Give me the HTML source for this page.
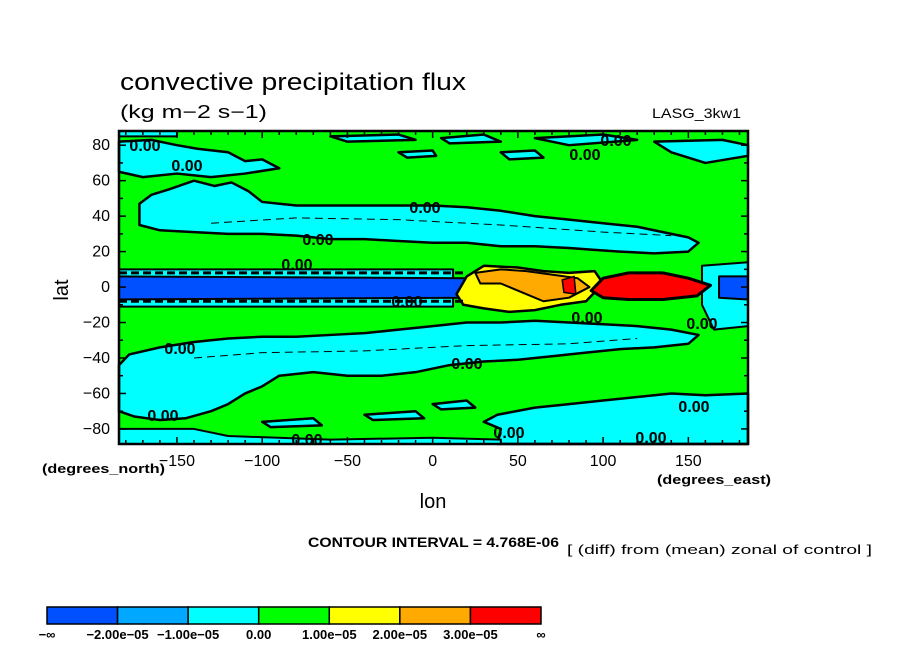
<!DOCTYPE html>
<html><head><meta charset="utf-8"><style>
body{margin:0;background:#fff;width:904px;height:654px;overflow:hidden}
svg text{font-family:"Liberation Sans",sans-serif}
</style></head><body>
<svg id="svg" width="904" height="654" xmlns="http://www.w3.org/2000/svg">
<text x="120" y="90" font-size="24" textLength="346" lengthAdjust="spacingAndGlyphs">convective precipitation flux</text>
<text x="120" y="118" font-size="18" textLength="147" lengthAdjust="spacingAndGlyphs">(kg m−2 s−1)</text>
<text x="652" y="118" font-size="14" textLength="89" lengthAdjust="spacingAndGlyphs">LASG_3kw1</text>
<g id="plot"></g>
<g id="axes"></g>
<text transform="translate(68,290) rotate(-90)" font-size="20" text-anchor="middle">lat</text>
<text x="42" y="473" font-size="13" font-weight="bold" textLength="123" lengthAdjust="spacingAndGlyphs">(degrees_north)</text>
<text x="433" y="508" font-size="20" text-anchor="middle">lon</text>
<text x="657" y="484" font-size="13" font-weight="bold" textLength="114" lengthAdjust="spacingAndGlyphs">(degrees_east)</text>
<text x="308" y="547" font-size="14" font-weight="bold" textLength="251" lengthAdjust="spacingAndGlyphs">CONTOUR INTERVAL = 4.768E-06</text>
<text x="567" y="554" font-size="13" textLength="305" lengthAdjust="spacingAndGlyphs">[ (diff) from (mean) zonal of control ]</text>
<g id="cbar"></g>
</svg>
<script>
const NS="http://www.w3.org/2000/svg";
const lonMin=-184, lonMax=185, latMin=-88.5, latMax=88;
const xTicks=[-150,-100,-50,0,50,100,150];
const yTicks=[-80,-60,-40,-20,0,20,40,60,80];
const cbarColors=["#0050ff","#00a8ff","#00ffff","#00ff00","#ffff00","#ffaa00","#ff0000"];
const cbarLabels=["−∞","−2.00e−05","−1.00e−05","0.00","1.00e−05","2.00e−05","3.00e−05","∞"];
// contour regions in [lon,lat]
const northBand=[[-172,47],[-165,52],[-155,55],[-140,60],[-128,57],[-118,59],[-108,54],[-100,48],[-80,46],[-50,46],[-20,46],[0,46],[20,45],[40,43],[60,40],[80,38],[100,36],[120,34],[140,30],[150,28],[156,25],[150,20],[130,19],[110,20],[95,21],[80,22],[60,23],[40,23],[20,25],[0,25],[-20,26],[-40,27],[-60,27],[-80,29],[-100,30],[-120,30],[-140,31],[-160,32],[-172,35]];
const northPolar=[[-184,82],[-165,83],[-150,80],[-138,78],[-120,76],[-110,71],[-100,72],[-90,67],[-110,64],[-130,62],[-150,64],[-170,62],[-184,65]];
const northStrip=[[-184,88],[-150,88],[-150,85],[-184,85]];
const northBlobs=[[[-60,85],[-20,86],[-10,83],[-50,82]],[[5,84],[30,86],[40,82],[10,81]],[[60,84],[100,86],[120,83],[80,80]],[[130,82],[170,83],[185,80],[185,74],[160,70],[140,76]],[[40,76],[60,77],[65,73],[45,72]],[[-20,76],[0,77],[2,74],[-15,73]]];
const southBand=[[-178,-38],[-160,-34],[-140,-31],[-120,-29],[-100,-28],[-80,-28],[-60,-27],[-40,-26],[-20,-24],[0,-22],[20,-20],[40,-20],[60,-19],[80,-20],[100,-21],[120,-22],[140,-24],[156,-27],[150,-32],[130,-34],[110,-35],[90,-37],[70,-39],[50,-41],[30,-42],[10,-44],[-10,-48],[-30,-50],[-50,-50],[-70,-48],[-90,-50],[-100,-56],[-110,-60],[-120,-66],[-130,-70],[-145,-74],[-160,-75],[-175,-73],[-184,-70],[-184,-44]];
const southPolar=[[38,-72],[60,-68],[80,-66],[100,-64],[120,-62],[140,-60],[160,-61],[185,-60],[185,-88.5],[38,-88.5],[40,-80],[30,-76]];
const southStrip=[[-184,-80],[-140,-80],[-120,-84],[-60,-86],[0,-85],[40,-86],[40,-88.5],[-184,-88.5]];
const southBlobs=[[[-40,-72],[-10,-70],[-5,-74],[-35,-75]],[[-100,-76],[-70,-74],[-65,-78],[-95,-79]],[[0,-66],[20,-64],[25,-68],[5,-69]]];
const eqCyanW=[[-184,10],[12,10],[12,-11],[-184,-11]];
const eqCyanE=[[158,12],[185,14],[185,-22],[165,-24],[158,-10]];
const eqBlueW=[[-184,6],[20,5],[20,-6],[-184,-7]];
const eqBlueE=[[168,6],[185,6],[185,-7],[168,-6]];
const yellowBlob=[[14,-4],[20,6],[30,12],[50,11],[65,9],[80,8],[95,9],[100,2],[90,-8],[75,-10],[60,-13],[45,-14],[30,-12],[18,-10]];
const orangeBlob=[[25,8],[40,10],[55,9],[70,7],[85,5],[92,0],[80,-6],[65,-8],[55,-4],[40,2],[28,2]];
const redBlob=[[93,-2],[100,5],[115,8],[135,8],[150,5],[163,1],[155,-5],[135,-7],[115,-7],[100,-6]];
const redSmall=[[76,4],[83,6],[84,-4],[77,-3]];
const dashN=[[-130,36],[-80,39],[-20,38],[40,35],[100,31],[140,29]];
const dashS=[[-140,-40],[-100,-37],[-40,-36],[20,-33],[80,-32],[120,-29]];
const labelPos=[[145,151],[187,171],[318,245],[297,270],[425,213],[407,307],[467,369],[163,421],[307,445],[509,438],[587,323],[616,146],[585,160],[702,329],[694,412],[651,443],[180,354]];
const X=l=>119+(l-lonMin)*629/(lonMax-lonMin);
const Y=l=>131+(latMax-l)*313/(latMax-latMin);
const plot=document.getElementById('plot'),axes=document.getElementById('axes'),cb=document.getElementById('cbar');
function mk(tag,at,par){const e=document.createElementNS(NS,tag);for(const k in at)e.setAttribute(k,at[k]);par.appendChild(e);return e;}
const bg=mk('rect',{x:119,y:131,width:629,height:313,fill:'#00ff00'},plot);


function poly(pts,fill,name,sw){const p=mk('polygon',{points:pts.map(q=>X(q[0])+','+Y(q[1])).join(' '),fill:fill,stroke:'#000','stroke-width':sw,'stroke-linejoin':'round'},plot);

return p;}
poly(eqCyanW,'#00ffff','eq-cyan-west',2);
poly(eqCyanE,'#00ffff','eq-cyan-east',2);
poly(eqBlueW,'#0050ff','eq-blue-west',2);
poly(eqBlueE,'#0050ff','eq-blue-east',2);
poly(northBand,'#00ffff','north-cyan-band',2.5);
poly(northPolar,'#00ffff','north-polar-cyan',2.5);
poly(northStrip,'#00ffff','north-strip-cyan',2);
northBlobs.forEach(b=>poly(b,'#00ffff','north-cyan-blob',2.5));
poly(southBand,'#00ffff','south-cyan-band',2.5);
poly(southPolar,'#00ffff','south-polar-cyan',2.5);
poly(southStrip,'#00ffff','south-strip-cyan',2);
southBlobs.forEach(b=>poly(b,'#00ffff','south-cyan-blob',2.5));
poly(yellowBlob,'#ffff00','yellow-region',2.5);
poly(orangeBlob,'#ffaa00','orange-region',2);
poly(redBlob,'#ff0000','red-region',3);
poly(redSmall,'#ff0000','red-small',1.5);
[[dashN,'north-dash'],[dashS,'south-dash']].forEach(([d,n])=>{const l=mk('polyline',{points:d.map(q=>X(q[0])+','+Y(q[1])).join(' '),fill:'none',stroke:'#000','stroke-width':1,'stroke-dasharray':'8,5'},plot);

});
[8,-8].forEach(la=>{const l=mk('line',{x1:X(lonMin),x2:X(18),y1:Y(la),y2:Y(la),stroke:'#000','stroke-width':3,'stroke-dasharray':'8,4'},plot);

});
labelPos.forEach(p=>{const t=mk('text',{x:p[0],y:p[1],'font-size':16,'text-anchor':'middle','font-weight':'bold'},plot);t.textContent='0.00';

});
const fr=mk('rect',{x:119,y:131,width:629,height:313,fill:'none',stroke:'#000','stroke-width':2.5},axes);


for(let l=-180;l<=180;l+=10){const big=l%50===0;[131,444].forEach((y,i)=>mk('line',{x1:X(l),x2:X(l),y1:y,y2:y+(i?-1:1)*(big?7:4),stroke:'#000','stroke-width':1.5},axes));}
for(let l=-80;l<=80;l+=10){const big=l%20===0;[119,748].forEach((x,i)=>mk('line',{x1:x,x2:x+(i?-1:1)*(big?7:4),y1:Y(l),y2:Y(l),stroke:'#000','stroke-width':1.5},axes));}
xTicks.forEach(v=>{const t=mk('text',{x:X(v),y:466,'font-size':16,'text-anchor':'middle'},axes);t.textContent=v<0?'−'+(-v):v;

});
yTicks.forEach(v=>{const t=mk('text',{x:110,y:Y(v)+5,'font-size':16,'text-anchor':'end'},axes);t.textContent=v<0?'−'+(-v):v;

});
const w=(541-47)/cbarColors.length;
cbarColors.forEach((c,i)=>{const r=mk('rect',{x:47+i*w,y:607,width:w,height:17,fill:c,stroke:'#000','stroke-width':1.5},cb);

});
cbarLabels.forEach((s,i)=>{const t=mk('text',{x:47+i*w,y:639,'font-size':13,'font-weight':'bold','text-anchor':'middle'},cb);t.textContent=s;

});
</script>
</body></html>
